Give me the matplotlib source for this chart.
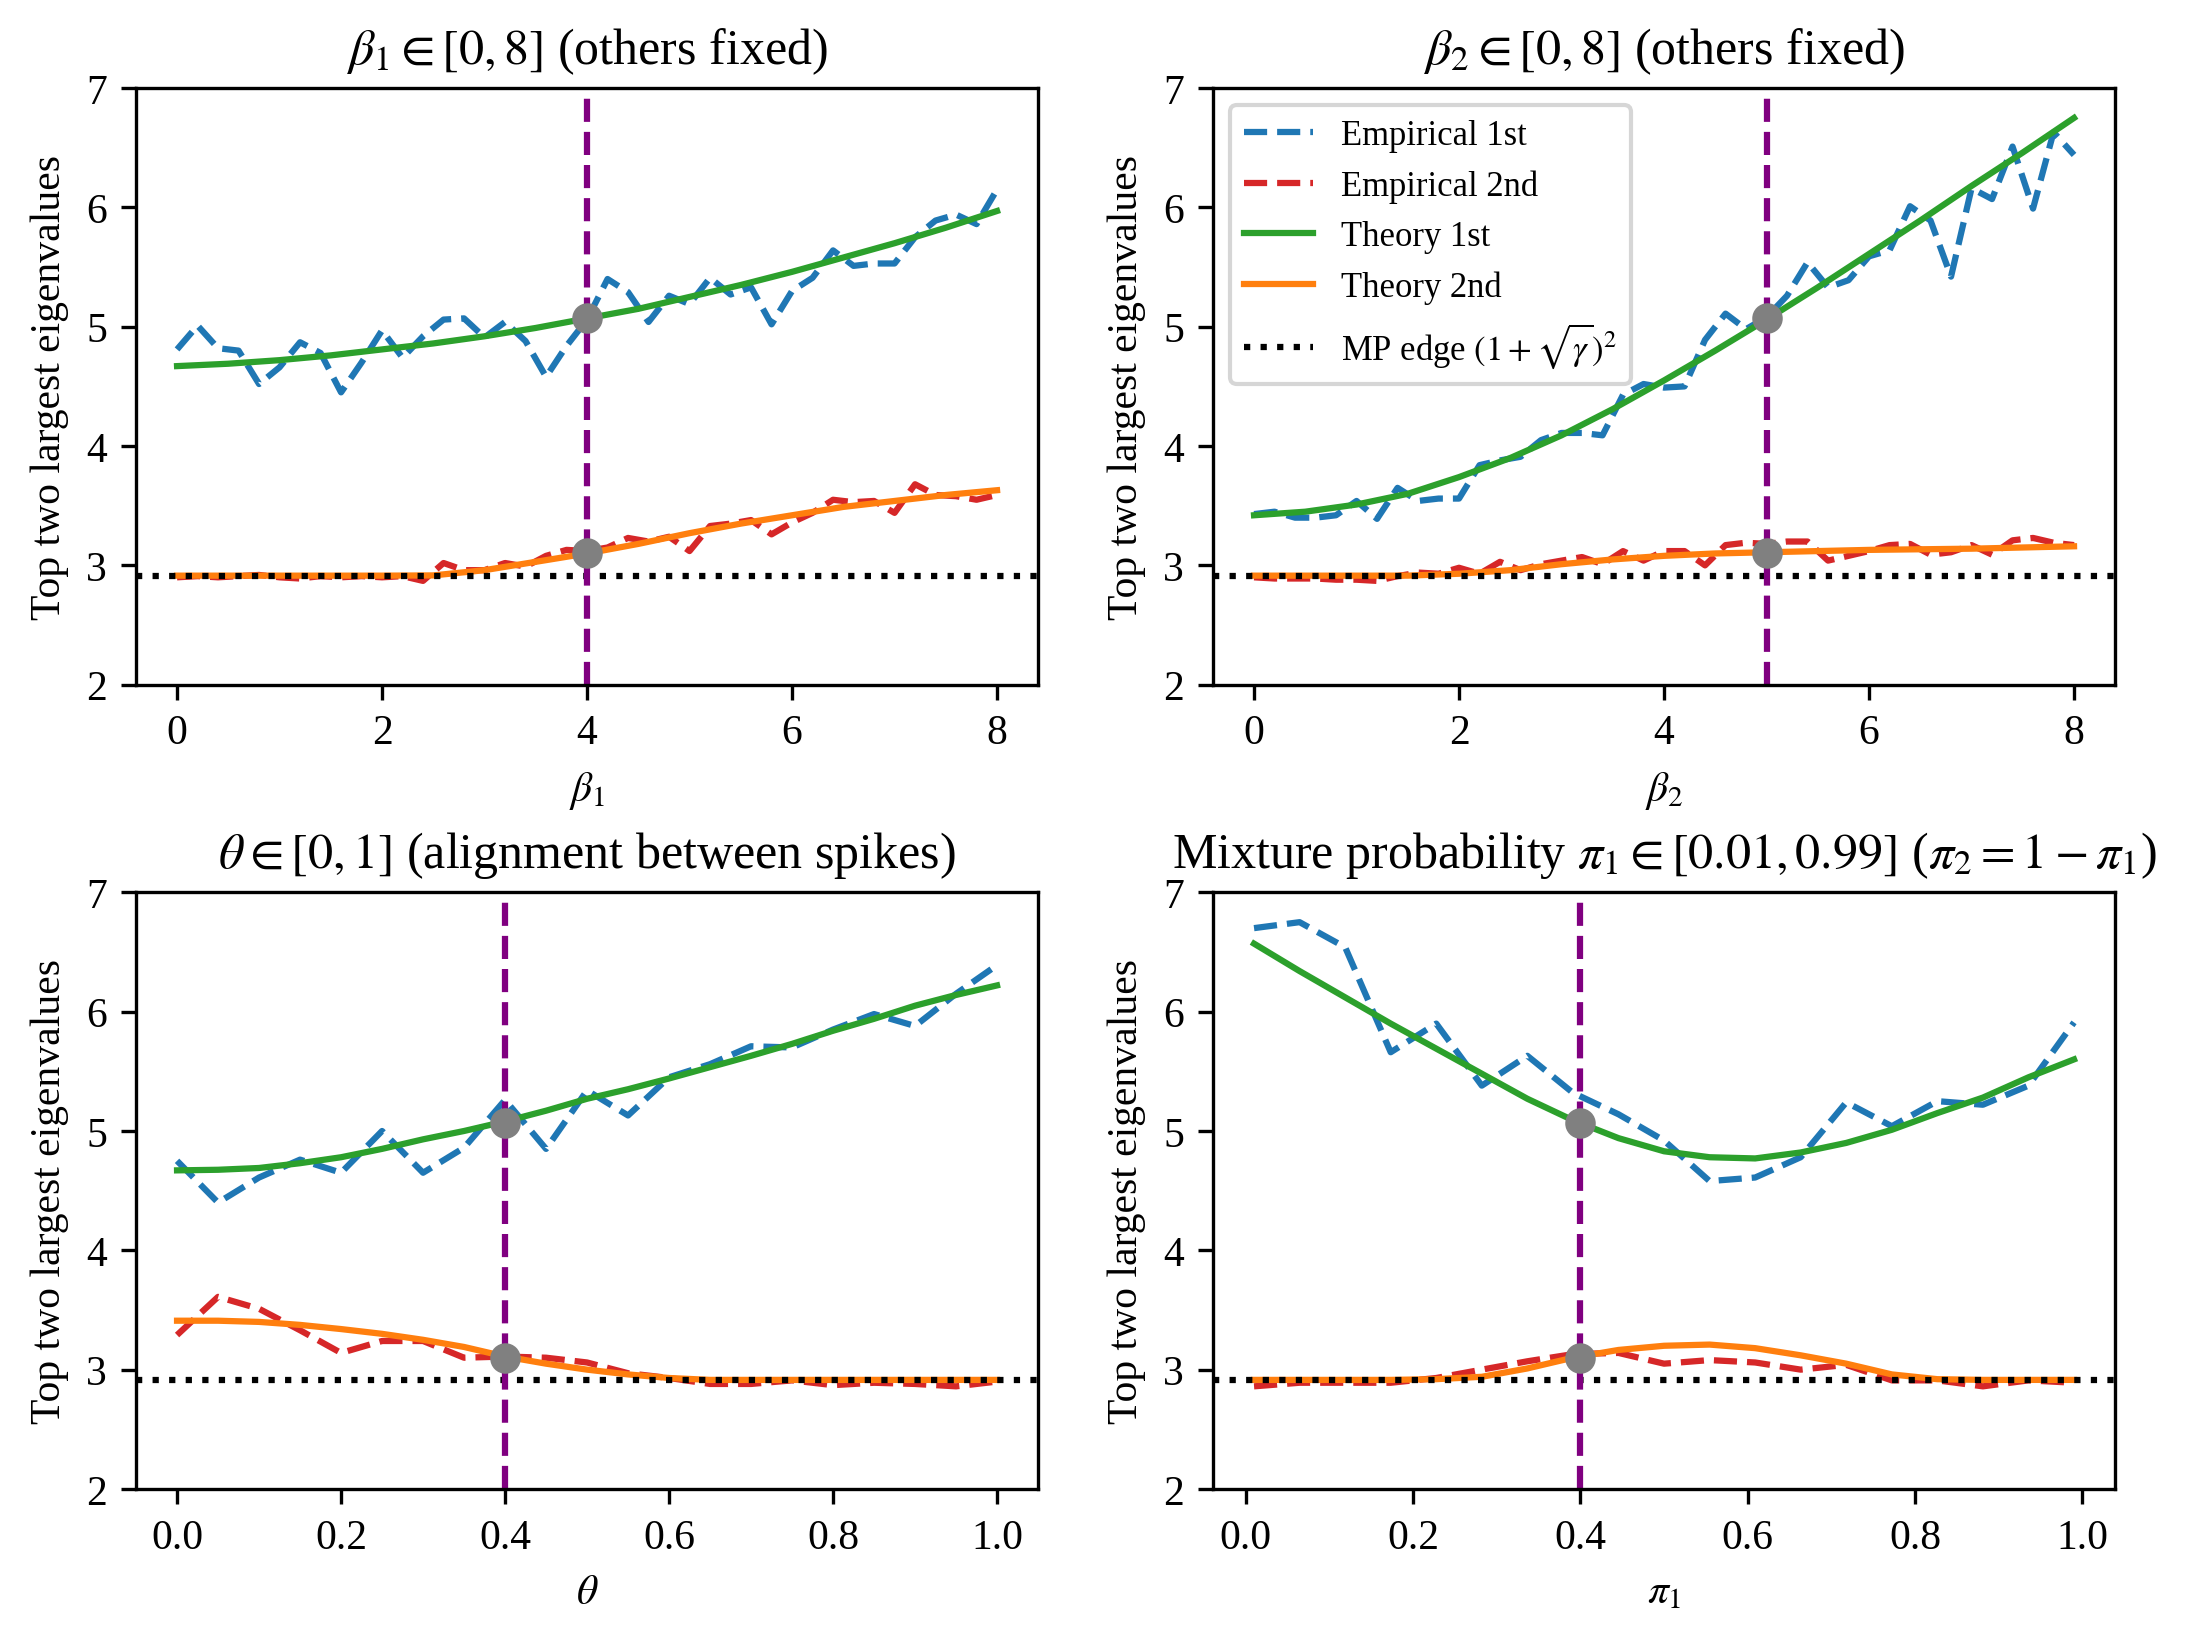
import numpy as np
import matplotlib
matplotlib.use("Agg")
import matplotlib.pyplot as plt

plt.rcParams["font.family"] = "serif"
plt.rcParams["font.serif"] = ["Liberation Serif", "DejaVu Serif"]
plt.rcParams["mathtext.fontset"] = "stix"

# aspect ratio of the noise, MP edge = (1 + sqrt(gamma))^2
gamma = 0.5
mp_edge = (1 + np.sqrt(gamma)) ** 2

# baseline configuration (marked by the vertical line and gray dots)
base_top = 5.07
base_second = 3.10

# ---- panel 1: beta_1 sweep ----
beta1_emp = np.linspace(0, 8, 41)
beta1_emp_1st = [4.81, 5.01, 4.82, 4.80, 4.52, 4.66, 4.87, 4.78, 4.45, 4.70,
                 4.97, 4.74, 4.92, 5.06, 5.07, 4.91, 5.04, 4.88, 4.58, 4.84,
                 5.06, 5.40, 5.29, 5.04, 5.26, 5.19, 5.41, 5.27, 5.33, 5.02,
                 5.30, 5.41, 5.64, 5.51, 5.53, 5.53, 5.75, 5.89, 5.94, 5.86,
                 6.15]
beta1_emp_2nd = [2.90, 2.91, 2.90, 2.91, 2.92, 2.90, 2.89, 2.91, 2.90, 2.91,
                 2.90, 2.91, 2.87, 3.02, 2.96, 2.96, 3.02, 2.99, 3.08, 3.13,
                 3.12, 3.15, 3.23, 3.20, 3.24, 3.12, 3.33, 3.35, 3.38, 3.26,
                 3.36, 3.44, 3.55, 3.53, 3.54, 3.44, 3.68, 3.59, 3.58, 3.55,
                 3.59]
beta1_th = np.linspace(0, 8, 17)
beta1_th_1st = [4.67, 4.69, 4.72, 4.76, 4.81, 4.86, 4.92, 4.99, 5.07, 5.15,
                5.25, 5.35, 5.46, 5.58, 5.70, 5.83, 5.97]
beta1_th_2nd = [2.914, 2.914, 2.914, 2.914, 2.914, 2.916, 2.96, 3.03, 3.10,
                3.18, 3.27, 3.35, 3.42, 3.49, 3.54, 3.59, 3.63]

# ---- panel 2: beta_2 sweep ----
beta2_emp = np.linspace(0, 8, 41)
beta2_emp_1st = [3.43, 3.45, 3.40, 3.40, 3.42, 3.54, 3.39, 3.65, 3.54, 3.56,
                 3.56, 3.84, 3.88, 3.91, 4.05, 4.11, 4.11, 4.09, 4.43, 4.52,
                 4.49, 4.50, 4.89, 5.11, 4.98, 5.08, 5.26, 5.54, 5.33, 5.39,
                 5.59, 5.64, 6.01, 5.89, 5.42, 6.16, 6.07, 6.51, 5.99, 6.63,
                 6.44]
beta2_emp_2nd = [2.90, 2.89, 2.89, 2.89, 2.88, 2.88, 2.87, 2.91, 2.94, 2.93,
                 2.98, 2.93, 3.03, 2.96, 3.01, 3.04, 3.07, 3.01, 3.12, 3.04,
                 3.12, 3.12, 3.00, 3.17, 3.19, 3.18, 3.20, 3.20, 3.04, 3.08,
                 3.12, 3.17, 3.18, 3.09, 3.11, 3.17, 3.09, 3.21, 3.23, 3.19,
                 3.17]
beta2_th = np.linspace(0, 8, 17)
beta2_th_1st = [3.42, 3.45, 3.51, 3.60, 3.74, 3.90, 4.09, 4.31, 4.55, 4.80,
                5.06, 5.33, 5.61, 5.89, 6.18, 6.46, 6.75]
beta2_th_2nd = [2.914, 2.914, 2.914, 2.914, 2.93, 2.96, 3.01, 3.05, 3.08,
                3.10, 3.11, 3.12, 3.13, 3.135, 3.14, 3.15, 3.16]

# ---- panel 3: theta sweep ----
theta = np.linspace(0, 1, 21)
theta_emp_1st = [4.75, 4.40, 4.61, 4.76, 4.65, 5.00, 4.65, 4.86, 5.26, 4.85,
                 5.34, 5.13, 5.45, 5.56, 5.71, 5.70, 5.85, 5.98, 5.88, 6.15,
                 6.39]
theta_emp_2nd = [3.29, 3.61, 3.51, 3.33, 3.14, 3.24, 3.24, 3.10, 3.11, 3.10,
                 3.06, 2.97, 2.93, 2.88, 2.88, 2.91, 2.87, 2.89, 2.88, 2.86,
                 2.90]
theta_th_1st = [4.67, 4.675, 4.69, 4.73, 4.78, 4.85, 4.93, 5.00, 5.08, 5.17,
                5.27, 5.35, 5.44, 5.535, 5.63, 5.73, 5.84, 5.94, 6.05, 6.14,
                6.22]
theta_th_2nd = [3.41, 3.41, 3.40, 3.375, 3.34, 3.30, 3.25, 3.19, 3.11, 3.05,
                3.00, 2.96, 2.93, 2.914, 2.914, 2.914, 2.914, 2.914, 2.914,
                2.914, 2.914]

# ---- panel 4: mixture probability sweep ----
pi1 = np.linspace(0.01, 0.99, 19)
pi1_emp_1st = [6.70, 6.75, 6.54, 5.66, 5.90, 5.38, 5.63, 5.32, 5.14, 4.92,
               4.58, 4.61, 4.78, 5.24, 5.04, 5.25, 5.22, 5.38, 5.91]
pi1_emp_2nd = [2.86, 2.89, 2.89, 2.89, 2.93, 3.00, 3.07, 3.13, 3.14, 3.05,
               3.08, 3.06, 3.00, 3.04, 2.91, 2.91, 2.86, 2.91, 2.89]
pi1_th_1st = [6.57, 6.34, 6.12, 5.90, 5.69, 5.48, 5.27, 5.09, 4.94, 4.83,
              4.78, 4.77, 4.82, 4.90, 5.01, 5.15, 5.28, 5.45, 5.60]
pi1_th_2nd = [2.914, 2.914, 2.914, 2.914, 2.92, 2.94, 3.01, 3.10, 3.165,
              3.20, 3.21, 3.18, 3.12, 3.05, 2.96, 2.92, 2.914, 2.914, 2.914]

panels = [
    (beta1_emp, beta1_emp_1st, beta1_emp_2nd, beta1_th, beta1_th_1st, beta1_th_2nd,
     4.0, r"$\beta_1$", r"$\beta_1 \in [0, 8]$ (others fixed)"),
    (beta2_emp, beta2_emp_1st, beta2_emp_2nd, beta2_th, beta2_th_1st, beta2_th_2nd,
     5.0, r"$\beta_2$", r"$\beta_2 \in [0, 8]$ (others fixed)"),
    (theta, theta_emp_1st, theta_emp_2nd, theta, theta_th_1st, theta_th_2nd,
     0.4, r"$\theta$", r"$\theta \in [0, 1]$ (alignment between spikes)"),
    (pi1, pi1_emp_1st, pi1_emp_2nd, pi1, pi1_th_1st, pi1_th_2nd,
     0.4, r"$\pi_1$", r"Mixture probability $\pi_1 \in [0.01, 0.99]$ ($\pi_2 = 1 - \pi_1$)"),
]

fig, axes = plt.subplots(2, 2, figsize=(7.35, 5.473), dpi=300)
fig.subplots_adjust(left=0.0617, right=0.9592, bottom=0.0926, top=0.9458,
                    wspace=0.194, hspace=0.348)

for ax, (xe, e1, e2, xt, t1, t2, base, xlabel, title) in zip(axes.flat, panels):
    ax.plot(xe, e1, "--", color="tab:blue", lw=1.5, label="Empirical 1st")
    ax.plot(xe, e2, "--", color="tab:red", lw=1.5, label="Empirical 2nd")
    ax.plot(xt, t1, "-", color="tab:green", lw=1.5, label="Theory 1st")
    ax.plot(xt, t2, "-", color="tab:orange", lw=1.5, label="Theory 2nd")
    ax.axhline(mp_edge, color="black", ls=":", lw=1.5,
               label=r"MP edge $(1+\sqrt{\gamma})^2$")
    ax.axvline(base, color="purple", ls="--", lw=1.5)
    ax.scatter([base, base], [base_top, base_second], color="gray", s=40, zorder=5)
    ax.set_ylim(2, 7)
    ax.set_xlabel(xlabel)
    ax.set_ylabel("Top two largest eigenvalues")
    ax.set_title(title, fontsize=12)

axes[0, 1].legend(loc="upper left", fontsize=8.3)

plt.savefig("out.png", dpi=300)
